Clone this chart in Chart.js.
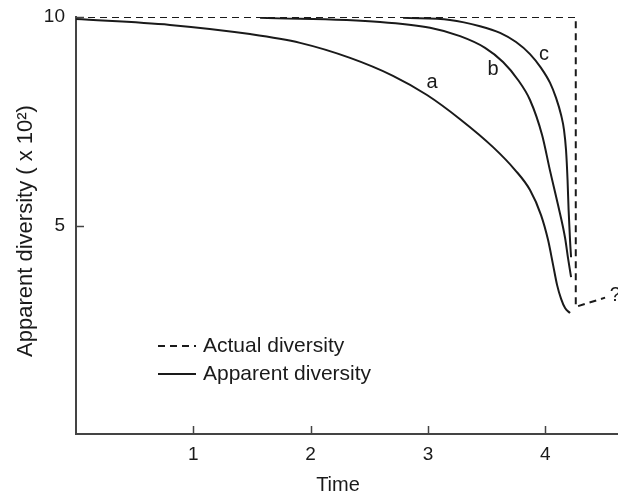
<!DOCTYPE html>
<html>
<head>
<meta charset="utf-8">
<script src="https://cdn.jsdelivr.net/npm/chart.js@4"></script>
<style>
  html, body { margin: 0; padding: 0; background: #fff; }
</style>
</head>
<body>
<canvas id="diversityChart" width="618" height="497"></canvas>
<script>
"use strict";

/* ── Data ─────────────────────────────────────────────────────────── */
const xTicks = [1, 2, 3, 4];
const yTicks = [5, 10];

const timeActual = [0, 4.26, 4.26, 4.51];
const divActual  = [10, 10, 3.05, 3.27];

const timeA = [0, 0.801, 1.483, 1.910, 2.336, 2.702, 2.992, 3.274, 3.555, 3.743, 3.870, 3.964, 4.024, 4.067, 4.101, 4.135, 4.169, 4.211];
const divA  = [9.95, 9.81, 9.59, 9.38, 9.02, 8.59, 8.13, 7.55, 6.88, 6.33, 5.85, 5.25, 4.65, 4.05, 3.57, 3.24, 3.02, 2.90];

const timeB = [1.569, 2.592, 3.018, 3.274, 3.487, 3.640, 3.768, 3.870, 3.973, 4.041, 4.109, 4.169, 4.194, 4.220];
const divB  = [9.98, 9.88, 9.74, 9.54, 9.26, 8.92, 8.49, 8.01, 7.17, 6.31, 5.49, 4.70, 4.22, 3.76];

const timeC = [2.788, 3.188, 3.444, 3.615, 3.751, 3.870, 3.964, 4.041, 4.092, 4.135, 4.160, 4.177, 4.190, 4.199, 4.211, 4.220];
const divC  = [9.98, 9.93, 9.78, 9.62, 9.40, 9.11, 8.78, 8.42, 8.06, 7.65, 7.29, 6.81, 6.09, 5.37, 4.65, 4.24];

// curve labels: [text, time, diversity]
const curveLabels = [
  ["a", 3.035, 8.42],
  ["b", 3.555, 8.73],
  ["c", 3.99, 9.11],
];
const unknownMark = ["?", 4.55, 3.33];

const legendItems = ["Actual diversity", "Apparent diversity"];
const xTitle = "Time";
const yTitle = "Apparent diversity ( x 10\u00B2)";

/* ── Helpers ──────────────────────────────────────────────────────── */
const FONT = "'Liberation Sans', Arial, Helvetica, sans-serif";
const INK = "#1a1a1a";

function toPoints(xs, ys) {
  return xs.map((x, i) => ({ x, y: ys[i] }));
}

function curve(xs, ys) {
  return {
    data: toPoints(xs, ys),
    showLine: true,
    borderColor: INK,
    borderWidth: 2,
    pointRadius: 0,
    cubicInterpolationMode: "monotone",
    fill: false,
  };
}

/* ── Extra drawing: inward ticks, titles, labels, legend ─────────── */
const decorPlugin = {
  id: "decor",
  afterDraw(chart) {
    const { ctx, chartArea, scales } = chart;
    const x = scales.x, y = scales.y;
    ctx.save();

    // inward tick marks
    ctx.strokeStyle = "#444";
    ctx.lineWidth = 1.5;
    ctx.beginPath();
    x.ticks.forEach((t) => {
      const px = Math.round(x.getPixelForValue(t.value)) + 0.5;
      ctx.moveTo(px, chartArea.bottom);
      ctx.lineTo(px, chartArea.bottom - 8);
    });
    y.ticks.forEach((t) => {
      const py = Math.round(y.getPixelForValue(t.value)) + 0.5;
      ctx.moveTo(chartArea.left, py);
      ctx.lineTo(chartArea.left + 8, py);
    });
    ctx.stroke();

    ctx.fillStyle = INK;
    ctx.textAlign = "center";
    ctx.textBaseline = "middle";

    // axis titles
    ctx.font = "20px " + FONT;
    ctx.fillText(xTitle, 338, 485);
    ctx.save();
    ctx.font = "22px " + FONT;
    ctx.translate(26, 231);
    ctx.rotate(-Math.PI / 2);
    ctx.fillText(yTitle, 0, 0);
    ctx.restore();

    // curve labels
    ctx.font = "20px " + FONT;
    curveLabels.forEach(([txt, tx, ty]) => {
      ctx.fillText(txt, x.getPixelForValue(tx), y.getPixelForValue(ty));
    });
    ctx.textAlign = "left";
    ctx.fillText(unknownMark[0], x.getPixelForValue(unknownMark[1]), y.getPixelForValue(unknownMark[2]));

    // legend
    ctx.font = "21px " + FONT;
    const rows = [346, 374];
    legendItems.forEach((label, i) => {
      const ds = chart.data.datasets[i];
      ctx.strokeStyle = INK;
      ctx.lineWidth = 1.8;
      ctx.setLineDash(ds.borderDash || []);
      ctx.beginPath();
      ctx.moveTo(158, rows[i]);
      ctx.lineTo(196, rows[i]);
      ctx.stroke();
      ctx.setLineDash([]);
      ctx.fillText(label, 203, rows[i]);
    });

    ctx.restore();
  },
};

/* ── Chart ────────────────────────────────────────────────────────── */
function initDiversityChart() {
  const canvas = document.getElementById("diversityChart");
  if (!canvas) return;

  new Chart(canvas.getContext("2d"), {
    type: "scatter",
    data: {
      datasets: [
        {
          data: toPoints(timeActual, divActual),
          showLine: true,
          borderColor: INK,
          borderWidth: 2,
          borderDash: [7, 5],
          pointRadius: 0,
          tension: 0,
          fill: false,
        },
        curve(timeA, divA),
        curve(timeB, divB),
        curve(timeC, divC),
      ],
    },
    options: {
      responsive: false,
      animation: false,
      devicePixelRatio: 1,
      layout: { padding: { top: 17, right: 0, left: 0, bottom: 0 } },
      plugins: {
        legend: { display: false },
        tooltip: { enabled: false },
      },
      scales: {
        x: {
          type: "linear",
          min: 0,
          max: 4.62,
          afterBuildTicks: (s) => { s.ticks = xTicks.map((v) => ({ value: v })); },
          afterFit: (s) => { s.height = 63; s.paddingLeft = 0; s.paddingRight = 0; },
          grid: { display: false, drawTicks: false },
          border: { display: true, color: "#444", width: 2 },
          ticks: {
            color: INK,
            padding: 9,
            font: { family: FONT, size: 19 },
            callback: (v) => String(v),
          },
        },
        y: {
          type: "linear",
          min: 0,
          max: 10,
          afterBuildTicks: (s) => { s.ticks = yTicks.map((v) => ({ value: v })); },
          afterFit: (s) => { s.width = 76; s.paddingTop = 0; s.paddingBottom = 0; },
          grid: { display: false, drawTicks: false },
          border: { display: true, color: "#444", width: 2 },
          ticks: {
            color: INK,
            padding: 11,
            font: { family: FONT, size: 19 },
            callback: (v) => String(v),
          },
        },
      },
    },
    plugins: [decorPlugin],
  });
}

document.addEventListener("DOMContentLoaded", initDiversityChart);
</script>
</body>
</html>
